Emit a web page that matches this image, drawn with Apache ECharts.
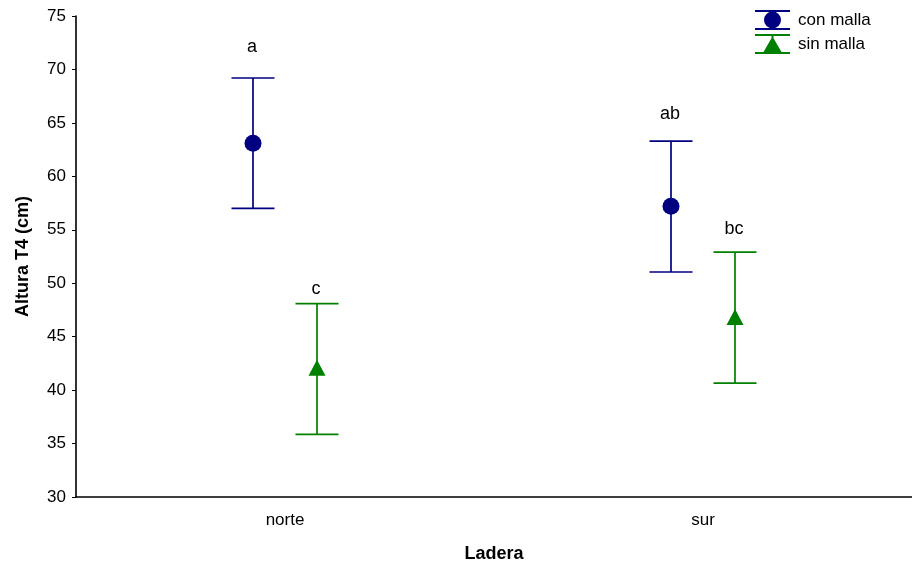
<!DOCTYPE html>
<html>
<head>
<meta charset="utf-8">
<script src="https://cdn.jsdelivr.net/npm/echarts@6/dist/echarts.min.js"></script>
<style>
html,body{margin:0;padding:0;background:#fff;}
#chart{width:912px;height:569px;}
</style>
</head>
<body>
<div id="chart"></div>
<script>
//datos
var laderas = ['norte', 'sur'];
var conMallaMedia = [63.1, 57.2];
var conMallaInf = [57.0, 51.05];
var conMallaSup = [69.2, 63.3];
var sinMallaMedia = [42.0, 46.75];
var sinMallaInf = [35.85, 40.65];
var sinMallaSup = [48.1, 52.9];
var conMallaLetras = ['a', 'ab'];
var conMallaLetrasY = [72.1, 65.8];
var sinMallaLetras = ['c', 'bc'];
var sinMallaLetrasY = [49.45, 55.1];
var yTicks = [30, 35, 40, 45, 50, 55, 60, 65, 70, 75];

var fuente = 'Arial, "Liberation Sans", sans-serif';

function armar(media, inf, sup, letrasY) {
	var d = [];
	for (var i = 0; i < media.length; i++) {
		d.push([i, media[i], inf[i], sup[i], letrasY[i]]);
	}
	return d;
}

//barras de error con marcador y letra
function dibujar(color, desplaz, forma, letras) {
	return function (params, api) {
		var c = api.value(0);
		var p = api.coord([c, api.value(1)]);
		var pInf = api.coord([c, api.value(2)]);
		var pSup = api.coord([c, api.value(3)]);
		var pLet = api.coord([c, api.value(4)]);
		var x = p[0] + desplaz;
		var est = { stroke: color, lineWidth: 1.7 };
		var hijos = [
			{ type: 'line', shape: { x1: x, y1: pSup[1], x2: x, y2: pInf[1] }, style: est },
			{ type: 'line', shape: { x1: x - 21.5, y1: pSup[1], x2: x + 21.5, y2: pSup[1] }, style: est },
			{ type: 'line', shape: { x1: x - 21.5, y1: pInf[1], x2: x + 21.5, y2: pInf[1] }, style: est }
		];
		if (forma === 'circulo') {
			hijos.push({ type: 'circle', shape: { cx: x, cy: p[1], r: 8.5 }, style: { fill: color } });
		} else {
			hijos.push({ type: 'polygon', shape: { points: [[x, p[1] - 9], [x + 8.5, p[1] + 7], [x - 8.5, p[1] + 7]] }, style: { fill: color } });
		}
		hijos.push({
			type: 'text',
			style: {
				text: letras[params.dataIndex], x: x - 1, y: pLet[1],
				align: 'center', verticalAlign: 'middle',
				font: '18px ' + fuente, fill: '#000'
			}
		});
		return { type: 'group', children: hijos };
	};
}

var iconoCirculo = 'path://M0 0h35v2h-35Z M0 18h35v2h-35Z M16.5 0h2v20h-2Z M9 10a8.5 8.5 0 1 1 17 0a8.5 8.5 0 1 1 -17 0Z';
var iconoTriangulo = 'path://M0 0h35v2h-35Z M0 18h35v2h-35Z M16.5 0h2v20h-2Z M17.5 2.5L26.5 18L8.5 18Z';

var chart = echarts.init(document.getElementById('chart'));
var option = {
	backgroundColor: '#fff',
	animation: false,
	textStyle: { fontFamily: fuente },
	color: ['#000080', '#008000'],
	legend: {
		left: 750,
		top: 5,
		orient: 'vertical',
		itemWidth: 35,
		itemHeight: 20,
		itemGap: 4,
		textStyle: { fontSize: 17, color: '#000', fontFamily: fuente, padding: [0, 0, 0, 3] },
		data: [
			{ name: 'con malla', icon: iconoCirculo },
			{ name: 'sin malla', icon: iconoTriangulo }
		]
	},
	grid: { left: 76, right: 0, top: 16, bottom: 72 },
	xAxis: {
		type: 'category',
		data: laderas,
		name: 'Ladera',
		nameLocation: 'middle',
		nameGap: 48,
		nameTextStyle: { fontSize: 18, fontWeight: 'bold', color: '#000', fontFamily: fuente },
		axisLine: { lineStyle: { color: '#000', width: 1.6 } },
		axisTick: { alignWithLabel: true, inside: true, length: 4, lineStyle: { color: '#000' } },
		axisLabel: { fontSize: 17, color: '#000', margin: 15, fontFamily: fuente },
		splitLine: { show: false }
	},
	yAxis: {
		type: 'value',
		min: yTicks[0],
		max: yTicks[yTicks.length - 1],
		interval: 5,
		name: 'Altura T4 (cm)',
		nameLocation: 'middle',
		nameGap: 44,
		nameTextStyle: { fontSize: 18, fontWeight: 'bold', color: '#000', fontFamily: fuente },
		axisLine: { show: true, lineStyle: { color: '#000', width: 1.6 } },
		axisTick: { show: true, length: 4, lineStyle: { color: '#000' } },
		axisLabel: { fontSize: 17, color: '#000', margin: 10, fontFamily: fuente },
		splitLine: { show: false }
	},
	series: [
		{
			name: 'con malla',
			type: 'custom',
			renderItem: dibujar('#000080', -32, 'circulo', conMallaLetras),
			encode: { x: 0, y: [1, 2, 3, 4] },
			data: armar(conMallaMedia, conMallaInf, conMallaSup, conMallaLetrasY)
		},
		{
			name: 'sin malla',
			type: 'custom',
			renderItem: dibujar('#008000', 32, 'triangulo', sinMallaLetras),
			encode: { x: 0, y: [1, 2, 3, 4] },
			data: armar(sinMallaMedia, sinMallaInf, sinMallaSup, sinMallaLetrasY)
		}
	]
};
chart.setOption(option);
</script>
</body>
</html>
